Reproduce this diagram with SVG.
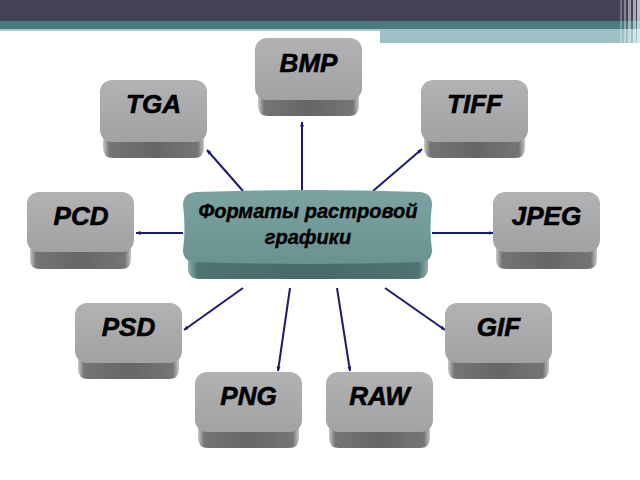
<svg xmlns="http://www.w3.org/2000/svg" width="640" height="480" viewBox="0 0 640 480">
<defs>
<linearGradient id="faceG" x1="0" y1="0" x2="0" y2="1">
<stop offset="0" stop-color="#b2b2b4"/>
<stop offset="1" stop-color="#a2a2a4"/>
</linearGradient>
<linearGradient id="sideG" x1="0" y1="0" x2="1" y2="0">
<stop offset="0" stop-color="#c8c8c8"/>
<stop offset="0.06" stop-color="#757575"/>
<stop offset="0.5" stop-color="#666666"/>
<stop offset="0.94" stop-color="#757575"/>
<stop offset="1" stop-color="#c8c8c8"/>
</linearGradient>
<linearGradient id="cFaceG" x1="0" y1="0" x2="0" y2="1">
<stop offset="0" stop-color="#7aa3a1"/>
<stop offset="1" stop-color="#6a9290"/>
</linearGradient>
<linearGradient id="cSideG" x1="0" y1="0" x2="1" y2="0">
<stop offset="0" stop-color="#8fb0ae"/>
<stop offset="0.04" stop-color="#4f7371"/>
<stop offset="0.5" stop-color="#486a68"/>
<stop offset="0.96" stop-color="#4f7371"/>
<stop offset="1" stop-color="#8fb0ae"/>
</linearGradient>
<marker id="arr" viewBox="0 0 10 10" refX="9" refY="5" markerWidth="5" markerHeight="5" orient="auto" markerUnits="userSpaceOnUse">
<path d="M0,1 L10,5 L0,9 Z" fill="#1a1a72"/>
</marker>
</defs>
<style>
.face{fill:url(#faceG);}
.side{fill:url(#sideG);}
.lbl{font-family:"Liberation Sans",Arial,sans-serif;font-weight:bold;font-style:italic;font-size:26px;fill:#000;stroke:#000;stroke-width:0.6;text-anchor:middle;}
.clbl{font-family:"Liberation Sans",Arial,sans-serif;font-weight:bold;font-style:italic;font-size:20px;fill:#000;stroke:#000;stroke-width:0.4;text-anchor:middle;}
.con line{stroke:#1a1a72;stroke-width:2;marker-end:url(#arr);}
</style>
<rect x="0" y="0" width="640" height="480" fill="#ffffff"/>
<g id="topbar">
<rect x="0" y="0" width="640" height="21" fill="#434158"/>
<rect x="0" y="21" width="640" height="8" fill="#4b7d80"/>
<rect x="0" y="29" width="380" height="2" fill="#a9c6c9"/>
<rect x="380" y="29" width="260" height="14" fill="#9fc0c4"/>
<rect x="620" y="0" width="2" height="43" fill="#ffffff" opacity="0.25"/>
<rect x="624" y="0" width="2" height="43" fill="#ffffff" opacity="0.35"/>
<rect x="628" y="0" width="3" height="43" fill="#ffffff" opacity="0.45"/>
<rect x="633" y="0" width="3" height="43" fill="#ffffff" opacity="0.55"/>
<rect x="637" y="0" width="3" height="43" fill="#ffffff" opacity="0.65"/>
</g>
<g id="connectors" class="con">
<line x1="302" y1="190" x2="302" y2="122"/>
<line x1="243" y1="191" x2="207" y2="150"/>
<line x1="373" y1="191" x2="422" y2="149"/>
<line x1="183" y1="233" x2="136" y2="233"/>
<line x1="432" y1="233" x2="493" y2="233"/>
<line x1="243" y1="288" x2="184" y2="330"/>
<line x1="290" y1="288" x2="278" y2="371"/>
<line x1="337" y1="288" x2="350" y2="371"/>
<line x1="385" y1="288" x2="445" y2="330"/>
</g>
<g id="center">
<path d="M188,248 L428,248 L428,268 Q428,279 416,279 L200,279 Q188,279 188,268 Z" fill="url(#cSideG)"/>
<path d="M196,192 Q307,188 420,192 Q432,193 432,205 Q429,228 432,250 Q432,262 420,262 Q307,266 196,262 Q183,262 183,250 Q186,228 183,205 Q183,193 196,192 Z" fill="url(#cFaceG)"/>
<text class="clbl" x="308" y="218">Форматы растровой</text>
<text class="clbl" x="308" y="244">графики</text>
</g>
<g id="bmp" transform="translate(255,38)">
<path class="side" d="M3,48 L104,48 L104,68 Q104,78 94,78 L13,78 Q3,78 3,68 Z"/>
<rect class="face" x="0" y="0" width="107" height="62" rx="12"/>
<text class="lbl" x="53.5" y="34">BMP</text>
</g>
<g id="tga" transform="translate(100,80)">
<path class="side" d="M3,48 L104,48 L104,68 Q104,78 94,78 L13,78 Q3,78 3,68 Z"/>
<rect class="face" x="0" y="0" width="107" height="62" rx="12"/>
<text class="lbl" x="53.5" y="33">TGA</text>
</g>
<g id="tiff" transform="translate(421,80)">
<path class="side" d="M3,48 L104,48 L104,68 Q104,78 94,78 L13,78 Q3,78 3,68 Z"/>
<rect class="face" x="0" y="0" width="107" height="62" rx="12"/>
<text class="lbl" x="53.5" y="33">TIFF</text>
</g>
<g id="pcd" transform="translate(27,192)">
<path class="side" d="M3,48 L104,48 L104,68 Q104,77 94,77 L13,77 Q3,77 3,68 Z"/>
<rect class="face" x="0" y="0" width="107" height="60" rx="12"/>
<text class="lbl" x="54" y="33">PCD</text>
</g>
<g id="jpeg" transform="translate(493,192)">
<path class="side" d="M3,48 L104,48 L104,68 Q104,77 94,77 L13,77 Q3,77 3,68 Z"/>
<rect class="face" x="0" y="0" width="107" height="60" rx="12"/>
<text class="lbl" x="53.5" y="33">JPEG</text>
</g>
<g id="psd" transform="translate(75,303)">
<path class="side" d="M3,48 L104,48 L104,66 Q104,76 94,76 L13,76 Q3,76 3,66 Z"/>
<rect class="face" x="0" y="0" width="107" height="60" rx="12"/>
<text class="lbl" x="53.5" y="33">PSD</text>
</g>
<g id="gif" transform="translate(445,303)">
<path class="side" d="M3,48 L104,48 L104,66 Q104,76 94,76 L13,76 Q3,76 3,66 Z"/>
<rect class="face" x="0" y="0" width="107" height="60" rx="12"/>
<text class="lbl" x="53.5" y="33">GIF</text>
</g>
<g id="png" transform="translate(195,372)">
<path class="side" d="M3,48 L104,48 L104,66 Q104,76 94,76 L13,76 Q3,76 3,66 Z"/>
<rect class="face" x="0" y="0" width="107" height="60" rx="12"/>
<text class="lbl" x="53.5" y="33">PNG</text>
</g>
<g id="raw" transform="translate(326,372)">
<path class="side" d="M3,48 L104,48 L104,66 Q104,76 94,76 L13,76 Q3,76 3,66 Z"/>
<rect class="face" x="0" y="0" width="107" height="60" rx="12"/>
<text class="lbl" x="53.5" y="33">RAW</text>
</g>
</svg>
